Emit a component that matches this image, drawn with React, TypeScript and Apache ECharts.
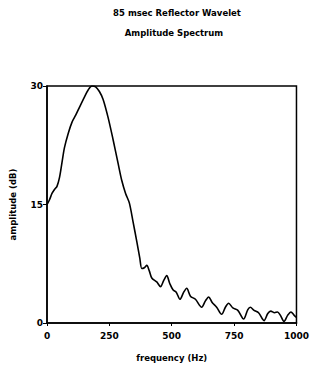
import React, { useEffect, useRef } from "react";
import * as echarts from "echarts";

const titleLine1 = "85 msec Reflector Wavelet";
const titleLine2 = "Amplitude Spectrum";
const xTicks = [0, 250, 500, 750, 1000];
const yTicks = [0, 15, 30];
const freq = [0,10,20,30,40,50,60,70,85,100,115,130,150,165,180,195,210,225,245,265,285,300,315,330,345,360,372,380,390,400,410,420,440,455,468,480,492,505,518,533,548,560,575,595,620,635,648,662,680,700,715,728,745,765,788,805,815,830,848,870,885,897,912,924,935,950,965,978,990,1000];
const amp = [15,15.6,16.4,16.9,17.3,18.4,20.3,22.2,24,25.4,26.3,27.3,28.6,29.5,30,29.9,29.3,28.3,26,23.2,20.2,18,16.4,15.2,12.8,10.3,8.2,6.9,7.0,7.3,6.6,5.7,5.2,4.6,5.4,6.0,5.0,4.2,3.9,3.0,3.9,4.4,3.4,3.0,2.0,2.8,3.3,2.6,2.0,1.1,2.0,2.5,1.9,1.6,0.5,1.7,2.0,1.6,1.3,0.3,1.2,1.5,1.3,1.4,1.0,0.2,1.0,1.4,1.0,0.7];

const FONT = "DejaVu Sans";

export default function App() {
  const ref = useRef<HTMLDivElement>(null);
  useEffect(() => {
    if (!ref.current) return;
    const chart = echarts.init(ref.current, null, { renderer: "svg" });
    chart.setOption({
      animation: false,
      backgroundColor: "#fff",
      graphic: [
        { type: "text", x: 177, y: 13,
          style: { text: titleLine1, fontFamily: FONT, fontWeight: "bold", fontSize: 8.5, fill: "#000", align: "center", verticalAlign: "middle" } },
        { type: "text", x: 174, y: 33,
          style: { text: titleLine2, fontFamily: FONT, fontWeight: "bold", fontSize: 8.5, fill: "#000", align: "center", verticalAlign: "middle" } },
      ],
      grid: { left: 45, right: 10, top: 86, bottom: 45, show: true, borderColor: "#000", borderWidth: 1.5, backgroundColor: "transparent" },
      xAxis: {
        type: "value", min: 0, max: 1000, interval: 250,
        name: "frequency (Hz)", nameLocation: "middle", nameGap: 30,
        nameTextStyle: { fontFamily: FONT, fontWeight: "bold", fontSize: 8.5, color: "#000" },
        axisLine: { lineStyle: { color: "#000", width: 1.5 } },
        axisTick: { length: 3, lineStyle: { color: "#000" } },
        axisLabel: { fontFamily: FONT, fontWeight: "bold", fontSize: 9, color: "#000", margin: 8,
          formatter: (v: number) => (xTicks.includes(v) ? String(v) : "") },
        splitLine: { show: false },
      },
      yAxis: {
        type: "value", min: 0, max: 30, interval: 15,
        name: "amplitude (dB)", nameLocation: "middle", nameGap: 30, nameRotate: 90,
        nameTextStyle: { fontFamily: FONT, fontWeight: "bold", fontSize: 8.5, color: "#000" },
        axisLine: { lineStyle: { color: "#000", width: 1.5 } },
        axisTick: { length: 4, lineStyle: { color: "#000" } },
        axisLabel: { fontFamily: FONT, fontWeight: "bold", fontSize: 9, color: "#000", margin: 4,
          formatter: (v: number) => (yTicks.includes(v) ? String(v) : "") },
        splitLine: { show: false },
      },
      series: [{
        type: "line",
        data: freq.map((f, i) => [f, amp[i]]),
        smooth: 0.3,
        showSymbol: false,
        lineStyle: { color: "#000", width: 1.6 },
      }],
    });
    return () => chart.dispose();
  }, []);
  return <div ref={ref} style={{ width: 312, height: 368, position: "absolute", left: 0, top: 0 }} />;
}
